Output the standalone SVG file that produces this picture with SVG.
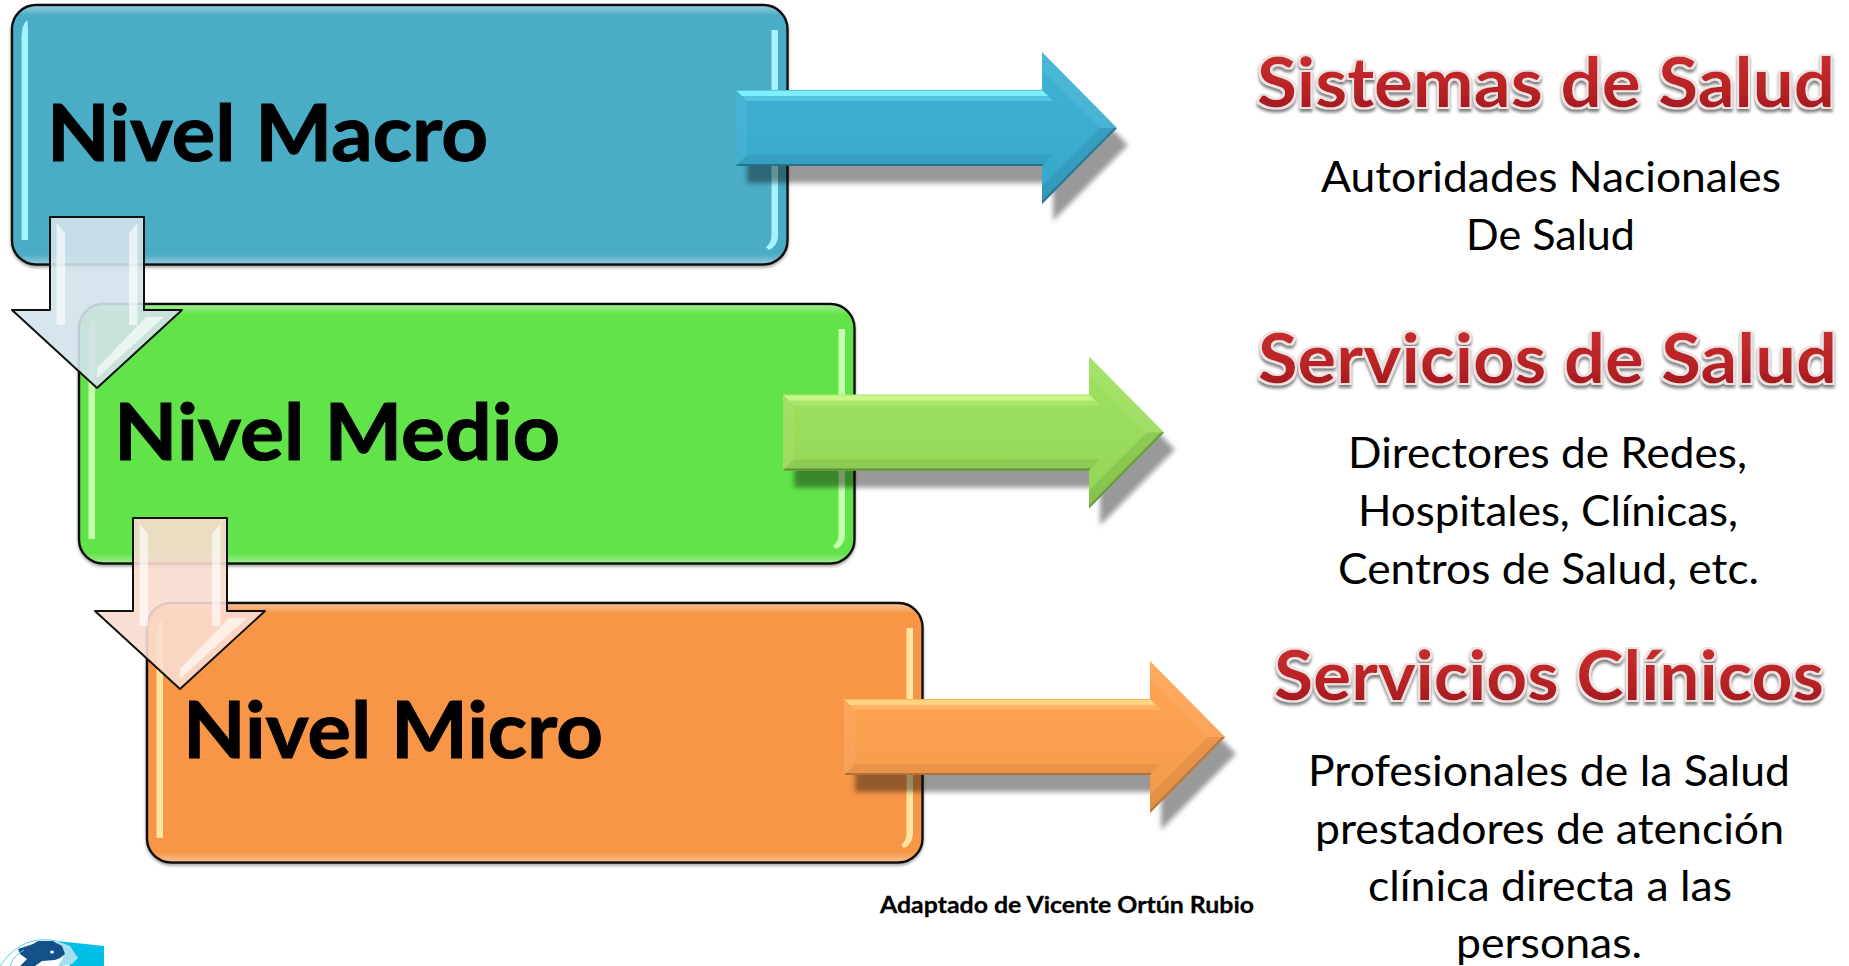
<svg xmlns="http://www.w3.org/2000/svg" width="1849" height="966" viewBox="0 0 1849 966">
<style>
text{font-family:Lato,"Open Sans","Liberation Sans",sans-serif;fill:#000}
.lvl{font-size:78px;font-weight:700;stroke:#000;stroke-width:1.1px}
.ttl{font-size:68px;font-weight:700;fill:url(#red);filter:url(#wordart)}
.sub{font-size:42px;font-weight:400}
.cred{font-size:23px;font-weight:700;stroke:#000;stroke-width:.3px}
.hi{fill:var(--hi)}
.lo{fill:var(--lo)}
</style>
<defs>
<linearGradient id="red" x1="0" y1="0" x2="0" y2="1">
<stop offset="0" stop-color="#cc3333"/><stop offset=".55" stop-color="#bb2426"/><stop offset="1" stop-color="#9c171a"/>
</linearGradient>
<linearGradient id="gloss" x1="0" y1="0" x2="0" y2="1">
<stop offset="0" stop-color="#fff" stop-opacity=".4"/><stop offset=".035" stop-color="#fff" stop-opacity="0"/>
<stop offset=".965" stop-color="#fff" stop-opacity="0"/><stop offset="1" stop-color="#fff" stop-opacity=".35"/>
</linearGradient>
<linearGradient id="shade" x1="0" y1="0" x2="0" y2="1">
<stop offset="0" stop-color="#fff" stop-opacity=".03"/><stop offset="1" stop-color="#000" stop-opacity=".06"/>
</linearGradient>
<filter id="wordart" x="-5%" y="-30%" width="110%" height="170%">
<feMorphology in="SourceAlpha" operator="dilate" radius="2" result="fat"/>
<feGaussianBlur in="fat" stdDeviation="1.8" result="soft"/>
<feOffset in="soft" dy="3" result="off"/>
<feFlood flood-color="#555" flood-opacity=".75"/><feComposite in2="off" operator="in" result="shadow"/>
<feFlood flood-color="#eee2e2"/><feComposite in2="fat" operator="in" result="halo"/>
<feMerge><feMergeNode in="shadow"/><feMergeNode in="halo"/><feMergeNode in="SourceGraphic"/></feMerge>
</filter>
<filter id="boxShadow" x="-2%" y="-3%" width="104%" height="108%">
<feDropShadow dx="0" dy="2" stdDeviation="1.5" flood-color="#000" flood-opacity=".35"/>
</filter>
<filter id="blur" x="-5%" y="-15%" width="110%" height="130%"><feGaussianBlur stdDeviation="2.5"/></filter>
<filter id="soft" x="-100%" y="-5%" width="300%" height="110%"><feGaussianBlur stdDeviation=".7"/></filter>
<g id="box">
<rect x="0" y="0" width="775.5" height="259.5" rx="24" fill="var(--fill)" stroke="#111" stroke-width="2.4" filter="url(#boxShadow)"/>
<rect x="1.2" y="1.2" width="773" height="257" rx="23" fill="url(#gloss)"/>
<path class="hi" filter="url(#soft)" d="M9.500 235V34Q9.500 19 15.500 15L16 24Q16 28 16 34V235Z"/>
<path class="hi" filter="url(#soft)" d="M759.500 25h6.500V230Q766 241 757 245L754 242Q759.500 238 759.500 230Z"/>
</g>
<path id="rShape" d="M0-38H306V-76L381 0 306 76V38H0Z"/>
<g id="rArrow">
<use href="#rShape" x="11" y="17" fill="#000" fill-opacity=".4" filter="url(#blur)"/>
<use href="#rShape"/>
<path d="M0-38H306V-76L381 0 306 76V38H0Z" fill="url(#shade)"/>
<path class="hi" fill-opacity=".35" d="M0-38H306L317-27H11Z"/>
<path class="hi" d="M1-37H307L312-32H6Z"/>
<path class="lo" fill-opacity=".18" d="M0 38H306L317 27H11Z"/>
<path class="lo" d="M0 38H306L307.500 36H2Z"/>
<path d="M0-38L11-27V27L0 38Z" fill="#fff" fill-opacity=".06"/>
<path d="M306-76L381 0H364L306-58Z" fill="#fff" fill-opacity=".07"/>
<path class="lo" fill-opacity=".22" d="M306 76L381 0H364L306 58Z"/>
<path class="lo" fill-opacity=".8" d="M306 76L381 0H378L306 73Z"/>
</g>
<g id="dArrow" stroke-linejoin="round">
<path d="M-47 0H47V93H85L0 171-85 93H-47Z" stroke="#111" stroke-width="2" fill="var(--fill)" fill-opacity=".9"/>
<path d="M-40.500 6L-32 16V108H-40.500ZM40.500 6L32 16V108H40.500Z" fill="#fff" fill-opacity=".62"/>
<path d="M0 151V161L67 100H49Z" fill="#fff" fill-opacity=".62"/>
</g>
</defs>

<rect width="1849" height="966" fill="#fff"/>

<g id="node-macro">
<use href="#box" x="12" y="5" style="--fill:#4bacc6;--hi:#a6f3ff"/>
<text class="lvl" x="47" y="161" textLength="441" lengthAdjust="spacingAndGlyphs">Nivel Macro</text>
</g>
<g id="node-medio">
<use href="#box" x="79" y="304" style="--fill:#62e34a;--hi:#c6ffb0"/>
<text class="lvl" x="114" y="460" textLength="446" lengthAdjust="spacingAndGlyphs">Nivel Medio</text>
</g>
<g id="node-micro">
<use href="#box" x="147" y="603" style="--fill:#f79646;--hi:#ffe6a0"/>
<text class="lvl" x="183" y="758" textLength="420" lengthAdjust="spacingAndGlyphs">Nivel Micro</text>
</g>

<g id="connectors">
<use href="#rArrow" x="736" y="128" fill="#38b0d3" style="--hi:#7eefff;--lo:#2a6f88"/>
<use href="#rArrow" x="783" y="432.500" fill="#9be05a" style="--hi:#c9f78a;--lo:#5f8f38"/>
<use href="#rArrow" x="844" y="737" fill="#ffa14e" style="--hi:#ffd585;--lo:#b0703a"/>
<use href="#dArrow" x="97" y="217" style="--fill:#d3e2ea"/>
<use href="#dArrow" x="180" y="518" style="--fill:#fadccf"/>
</g>

<g id="sistemas">
<text class="ttl" x="1257" y="107" textLength="578" lengthAdjust="spacingAndGlyphs">Sistemas de Salud</text>
<text class="sub" x="1321" y="192" textLength="460" lengthAdjust="spacingAndGlyphs">Autoridades Nacionales</text>
<text class="sub" x="1466" y="250" textLength="169" lengthAdjust="spacingAndGlyphs">De Salud</text>
</g>
<g id="servicios">
<text class="ttl" x="1258" y="383" textLength="579" lengthAdjust="spacingAndGlyphs">Servicios de Salud</text>
<text class="sub" x="1348" y="468" textLength="399" lengthAdjust="spacingAndGlyphs">Directores de Redes,</text>
<text class="sub" x="1358" y="526" textLength="380" lengthAdjust="spacingAndGlyphs">Hospitales, Clínicas,</text>
<text class="sub" x="1338" y="584" textLength="421" lengthAdjust="spacingAndGlyphs">Centros de Salud, etc.</text>
</g>
<g id="clinicos">
<text class="ttl" x="1274" y="700" textLength="550" lengthAdjust="spacingAndGlyphs">Servicios Clínicos</text>
<text class="sub" x="1308" y="786" textLength="482" lengthAdjust="spacingAndGlyphs">Profesionales de la Salud</text>
<text class="sub" x="1315" y="844" textLength="469" lengthAdjust="spacingAndGlyphs">prestadores de atención</text>
<text class="sub" x="1368" y="901" textLength="364" lengthAdjust="spacingAndGlyphs">clínica directa a las</text>
<text class="sub" x="1456" y="958" textLength="186" lengthAdjust="spacingAndGlyphs">personas.</text>
</g>
<text id="credit" class="cred" x="880" y="913" textLength="374" lengthAdjust="spacingAndGlyphs">Adaptado de Vicente Ortún Rubio</text>

<g id="logo">
<path d="M57 941L104 946V966H70Z" fill="#00bfe6"/>
<path d="M57 941L70 946L78 958L72 964L62 966H58L63 958Z" fill="#a8dff0"/>
<path d="M18 949L33 944L38 941H53L62 946L65 954L60 958L55 960L42 961L35 966H20L27 959L20 954Z" fill="#14508a"/>
<ellipse cx="52" cy="952" rx="2" ry="1.500" fill="#fff"/>
<path d="M0 966Q14 944 37 940Q48 939 57 941M10 966Q14 955 24 950" fill="none" stroke="#5fd0ee" stroke-width="1"/>
</g>
</svg>
